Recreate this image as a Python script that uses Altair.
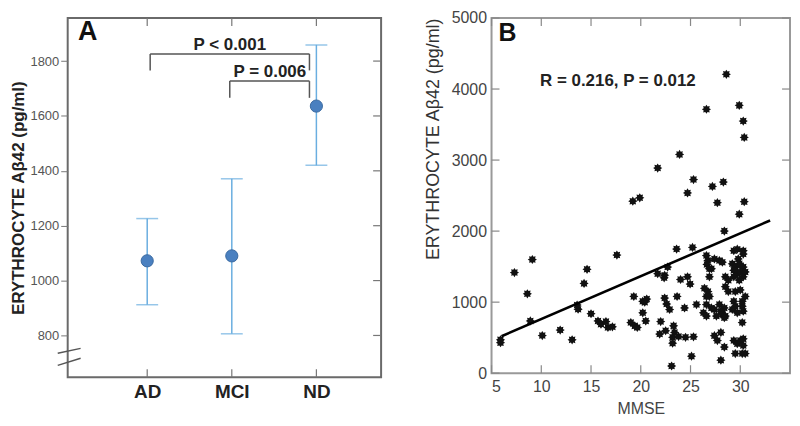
import altair as alt
import pandas as pd

# ---------------- Panel A data ----------------
groups = ["AD", "MCI", "ND"]
group_pos = [1, 2, 3]
means = [1072, 1090, 1636]
err_lo = [912, 806, 1420]
err_hi = [1226, 1371, 1859]
a_yticks = [800, 1000, 1200, 1400, 1600, 1800]

# brackets (x start, x end, bar level, leg bottom)
br_x1 = [1.035, 1.976]
br_x2 = [2.918, 2.918]
br_top = [1826, 1727]
br_bot = [1766, 1666]
br_text = ["P < 0.001", "P = 0.006"]
br_text_x = [1.976, 2.45]
br_text_y = [1860, 1761]

# axis-break marks
break_y1 = [735, 691]
break_y2 = [753, 717]

# ---------------- Panel B data ----------------
mmse = [5.9, 5.9, 7.3, 8.6, 9.1, 8.9, 10.1, 11.9, 13.1, 13.6, 13.7, 14.3, 14.6, 15.0,
        15.7, 16.0, 16.5, 16.7, 17.15, 17.6,
        19.0, 19.4, 19.65, 19.3, 19.2, 19.9, 20.2, 20.6, 20.4, 20.2, 20.5, 21.7,
        21.7, 22.4, 22.7, 22.35, 22.0, 21.9, 22.5, 22.4, 22.6, 22.9, 23.3, 23.4, 23.2, 23.2,
        23.8, 23.1, 23.6, 23.65, 24.0, 24.7, 24.96, 24.4, 24.5, 23.9, 24.7, 25.3, 25.2, 25.3,
        25.1, 25.6,
        26.6, 27.2, 28.3, 27.7, 28.4, 28.6,
        26.6, 26.75, 26.65, 26.9, 27.4, 27.9, 28.2, 27.1,
        26.9, 28.5, 28.8, 28.5, 28.8,
        26.4, 26.75, 26.6, 26.9,
        26.6, 27.1, 27.4, 27.9, 28.4, 28.05, 28.2, 28.5, 28.4,
        26.3, 26.6, 27.6,
        27.4, 27.7, 28.05, 28.4, 28.05,
        29.9, 30.3, 30.4, 30.4, 29.9,
        29.35, 29.7, 30.3, 30.3, 29.8,
        29.2, 29.5, 29.9, 29.35, 29.7, 30.0, 30.3, 30.3, 29.9, 29.35, 30.0, 30.5,
        29.5, 30.0,
        29.35, 29.5, 29.2, 29.7, 30.2, 30.3, 30.5, 30.2,
        30.2,
        29.35, 29.7, 30.0, 29.5, 30.2, 30.3, 30.3, 30.5]
abeta = [470, 430, 1416, 1117, 1600, 736, 529, 607, 469, 960, 900, 1264, 1462, 837,
         735, 690, 726, 643, 652, 1663,
         712, 666, 643, 1080, 2422, 2469, 1011, 1043, 1000, 850, 735, 2887,
         1401, 1379, 1494, 1342, 726, 551, 597, 1057, 974, 896, 666, 574, 505, 422,
         515, 101, 1747, 1080, 1319, 1356, 1255, 919, 505, 3080, 2538, 2725, 1770, 512,
         239, 966,
         3715, 2629, 2690, 2400, 2000, 4207,
         1655, 1586, 1531, 1470, 1608, 1586, 1563, 1470,
         1356, 1356, 1310, 1218, 1149,
         1195, 1149, 1080, 1080,
         966, 919, 896, 966, 919, 873, 828, 804, 781,
         850, 804, 804,
         528, 459, 574, 367, 183,
         3770, 3549, 3319, 2414, 2239,
         1724, 1746, 1724, 1677, 1608,
         1539, 1494, 1539, 1448, 1401, 1425, 1494, 1356, 1310, 1356, 1517, 1425,
         1149, 1172,
         1011, 942, 897, 850, 942, 873, 1080, 1011,
         712,
         459, 414, 459, 276, 276, 390, 483, 276]
fit_x = [6, 33]
fit_y = [520, 2150]
b_xticks = [5, 10, 15, 20, 25, 30]
b_yticks = [0, 1000, 2000, 3000, 4000, 5000]
stat_text = "R = 0.216, P = 0.012"
stat_x = 17.7
stat_y = 4110

FONT = "Liberation Sans"

# =============== Panel A ===============
AW, AH = 315, 361
a_df = pd.DataFrame({"g": groups, "pos": group_pos, "mean": means, "lo": err_lo, "hi": err_hi})
xa = alt.Scale(domain=[0.06, 3.765], nice=False, zero=False)
ya = alt.Scale(domain=[648, 1957], nice=False, zero=False)

x_axis_a = alt.Axis(values=group_pos, labelExpr="datum.value==1?'AD':datum.value==2?'MCI':'ND'",
                    ticks=False, domain=False, grid=False, labelFontSize=19, labelColor="#222",
                    labelFontWeight="bold", labelPadding=5, title=None)
y_axis_a = alt.Axis(values=a_yticks, format="d", grid=False, domain=False, tickSize=7, tickColor="#777",
                    labelFontSize=13, labelColor="#555", labelPadding=2,
                    title="ERYTHROCYTE  Aβ42 (pg/ml)", titleFontSize=17, titleColor="#222",
                    titleFontWeight="bold", titlePadding=3)

base_a = alt.Chart(a_df)
err = base_a.mark_rule(color="#6aaee0", strokeWidth=1.5).encode(
    x=alt.X("pos:Q", scale=xa, axis=x_axis_a),
    y=alt.Y("lo:Q", scale=ya, axis=y_axis_a),
    y2="hi:Q")
cap_lo = base_a.mark_tick(orient="horizontal", color="#6aaee0", size=22, thickness=1.5).encode(
    x=alt.X("pos:Q", scale=xa), y=alt.Y("lo:Q", scale=ya))
cap_hi = base_a.mark_tick(orient="horizontal", color="#6aaee0", size=22, thickness=1.5).encode(
    x=alt.X("pos:Q", scale=xa), y=alt.Y("hi:Q", scale=ya))
dots = base_a.mark_circle(size=150, color="#4a80c0", opacity=1, stroke="#3a6aa0", strokeWidth=1).encode(
    x=alt.X("pos:Q", scale=xa), y=alt.Y("mean:Q", scale=ya))

br_df = pd.DataFrame({"x1": br_x1, "x2": br_x2, "top": br_top, "bot": br_bot,
                      "t": br_text, "tx": br_text_x, "ty": br_text_y})
br_h = alt.Chart(br_df).mark_rule(color="#555", strokeWidth=1.5).encode(
    x=alt.X("x1:Q", scale=xa), x2="x2:Q", y=alt.Y("top:Q", scale=ya))
br_l = alt.Chart(br_df).mark_rule(color="#555", strokeWidth=1.5).encode(
    x=alt.X("x1:Q", scale=xa), y=alt.Y("top:Q", scale=ya), y2="bot:Q")
br_r = alt.Chart(br_df).mark_rule(color="#555", strokeWidth=1.5).encode(
    x=alt.X("x2:Q", scale=xa), y=alt.Y("top:Q", scale=ya), y2="bot:Q")
br_t = alt.Chart(br_df).mark_text(fontSize=17, fontWeight="bold", color="#222").encode(
    x=alt.X("tx:Q", scale=xa), y=alt.Y("ty:Q", scale=ya), text="t:N")

yt_df = pd.DataFrame({"v": a_yticks})
a_rtick = alt.Chart(yt_df).mark_rule(color="#777", strokeWidth=1.2).encode(
    y=alt.Y("v:Q", scale=ya), x=alt.value(AW - 8), x2=alt.value(AW))
xt_df = pd.DataFrame({"p": group_pos})
a_ttick = alt.Chart(xt_df).mark_rule(color="#777", strokeWidth=1.2).encode(
    x=alt.X("p:Q", scale=xa), y=alt.value(0), y2=alt.value(8))
a_btick = alt.Chart(xt_df).mark_rule(color="#777", strokeWidth=1.2).encode(
    x=alt.X("p:Q", scale=xa), y=alt.value(AH - 8), y2=alt.value(AH))

brk_df = pd.DataFrame({"y1": break_y1, "y2": break_y2})
brk = alt.Chart(brk_df).mark_rule(color="#555", strokeWidth=1.5).encode(
    y=alt.Y("y1:Q", scale=ya), y2="y2:Q", x=alt.value(-10), x2=alt.value(13))

lab_a = alt.Chart(pd.DataFrame({"t": ["A"]})).mark_text(
    fontSize=27, fontWeight="bold", color="#111").encode(
    text="t:N", x=alt.value(20), y=alt.value(14))

panel_a = alt.layer(err, cap_lo, cap_hi, dots, br_h, br_l, br_r, br_t,
                    a_rtick, a_ttick, a_btick, brk, lab_a).properties(
    width=AW, height=AH, view=alt.ViewBackground(stroke="#6a6a6a", strokeWidth=2))

# =============== Panel B ===============
BW, BH = 300, 357
xb = alt.Scale(domain=[5, 35], nice=False, zero=False)
yb = alt.Scale(domain=[0, 5000], nice=False)
x_axis_b = alt.Axis(values=b_xticks, format="d", ticks=False, domain=False, grid=False, labelFontSize=16,
                    labelColor="#444", labelPadding=5, title="MMSE", titleFontSize=16,
                    titleColor="#444", titleFontWeight="normal", titlePadding=7)
y_axis_b = alt.Axis(values=b_yticks, format="d", ticks=False, domain=False, grid=False, labelFontSize=16,
                    labelColor="#444", labelPadding=5, title="ERYTHROCYTE Aβ42 (pg/ml)",
                    titleFontSize=18, titleColor="#333", titleFontWeight="normal", titlePadding=9,
                    titleAnchor="end")

sc_df = pd.DataFrame({"mmse": mmse, "abeta": abeta})
star = ("M0,-1L0.25,-0.6L0.71,-0.71L0.6,-0.25L1,0L0.6,0.25L0.71,0.71L0.25,0.6L0,1"
        "L-0.25,0.6L-0.71,0.71L-0.6,0.25L-1,0L-0.6,-0.25L-0.71,-0.71L-0.25,-0.6Z")
scat = alt.Chart(sc_df).mark_point(shape=star, filled=True, color="#111", size=85, opacity=1).encode(
    x=alt.X("mmse:Q", scale=xb, axis=x_axis_b),
    y=alt.Y("abeta:Q", scale=yb, axis=y_axis_b))
fit = alt.Chart(pd.DataFrame({"x": fit_x, "y": fit_y})).mark_line(color="#000", strokeWidth=2.6).encode(
    x=alt.X("x:Q", scale=xb), y=alt.Y("y:Q", scale=yb))
stat = alt.Chart(pd.DataFrame({"t": [stat_text], "x": [stat_x], "y": [stat_y]})).mark_text(
    fontSize=17, fontWeight="bold", color="#222").encode(
    x=alt.X("x:Q", scale=xb), y=alt.Y("y:Q", scale=yb), text="t:N")

byt_df = pd.DataFrame({"v": b_yticks})
bxt_df = pd.DataFrame({"v": b_xticks})
b_ltick = alt.Chart(byt_df).mark_rule(color="#888", strokeWidth=1.2).encode(
    y=alt.Y("v:Q", scale=yb), x=alt.value(0), x2=alt.value(8))
b_rtick = alt.Chart(byt_df).mark_rule(color="#888", strokeWidth=1.2).encode(
    y=alt.Y("v:Q", scale=yb), x=alt.value(BW - 8), x2=alt.value(BW))
b_ttick = alt.Chart(bxt_df).mark_rule(color="#888", strokeWidth=1.2).encode(
    x=alt.X("v:Q", scale=xb), y=alt.value(0), y2=alt.value(8))
b_btick = alt.Chart(bxt_df).mark_rule(color="#888", strokeWidth=1.2).encode(
    x=alt.X("v:Q", scale=xb), y=alt.value(BH - 8), y2=alt.value(BH))
lab_b = alt.Chart(pd.DataFrame({"t": ["B"]})).mark_text(
    fontSize=25, fontWeight="bold", color="#111").encode(
    text="t:N", x=alt.value(16), y=alt.value(15))

panel_b = alt.layer(scat, fit, stat, b_ltick, b_rtick, b_ttick, b_btick, lab_b).properties(
    width=BW, height=BH, view=alt.ViewBackground(stroke="#999", strokeWidth=2))

chart = alt.hconcat(panel_a, panel_b, spacing=40).properties(
    padding={"left": 0, "top": 0, "right": 0, "bottom": 0}
).configure(font=FONT).configure_view(stroke="#777", strokeWidth=2)

chart.save("out.html", embed_options={"renderer": "svg", "actions": False})
